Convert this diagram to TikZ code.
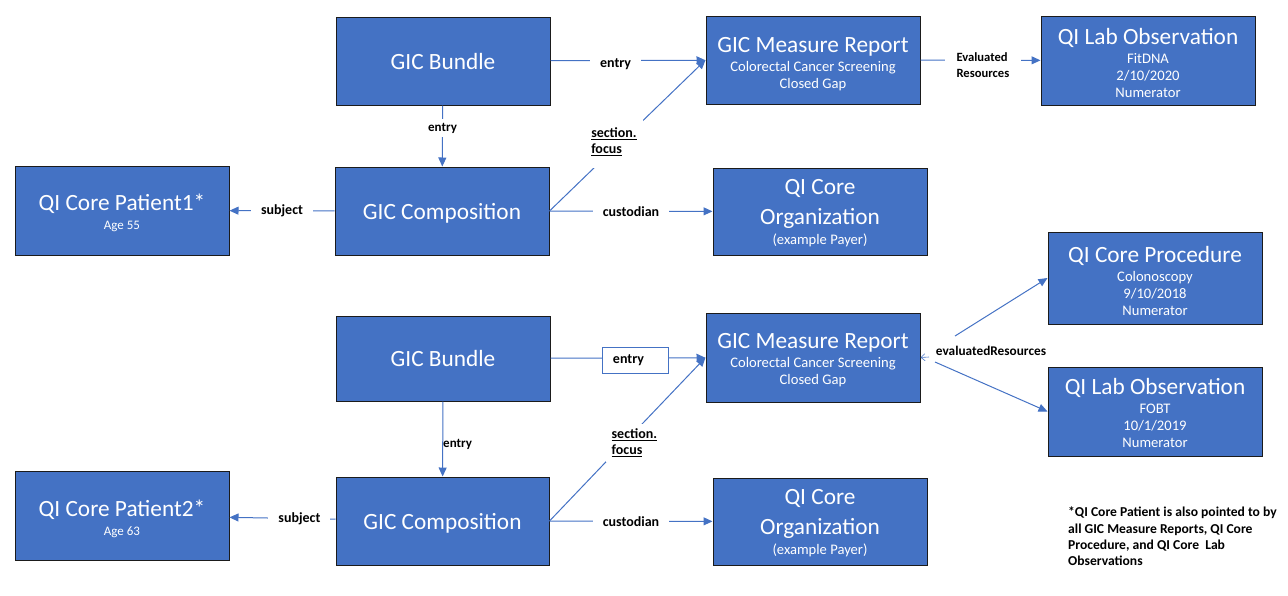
\documentclass[tikz,border=0pt]{standalone}
\usepackage{fontspec}
\setmainfont{Carlito}
\usetikzlibrary{arrows.meta}
\definecolor{boxblue}{HTML}{4472C4}
\definecolor{bordercol}{HTML}{1B1B1B}
\newcommand{\ttl}[2][0pt]{{\fontsize{23.3}{26}\selectfont\rule{0pt}{#1}#2}}
\newcommand{\sml}[1]{{\fontsize{13}{15}\selectfont #1}}
\tikzset{
  box/.style={draw=bordercol, line width=1pt, fill=boxblue, text=white,
    minimum width=214pt, minimum height=88pt, align=center, inner sep=0pt,
    font=\fontsize{14.6}{17}\selectfont},
  conn/.style={draw=boxblue, line width=1pt, -{Triangle[length=9pt,width=8pt]}},
  lbl/.style={fill=white, text=black, font=\bfseries\fontsize{14}{16}\selectfont,
    inner xsep=10pt, inner ysep=4pt, align=left},
  lblsmall/.style={font=\bfseries\fontsize{13}{15}\selectfont},
  lblbox/.style={lbl, draw=boxblue, line width=0.8pt, text width=44pt, inner xsep=11pt, minimum height=26pt},
  notefont/.style={font=\bfseries\fontsize{13.6}{16.3}\selectfont, align=left, text=black}
}
\begin{document}
\begin{tikzpicture}[x=1pt,y=-1pt]
\useasboundingbox (0,0) rectangle (1288,595);

% top group
\node[box] (b1) at (443,61) {\ttl{GIC Bundle}};
\node[box] (mr1) at (813,60) {\ttl[24pt]{GIC Measure Report}\\[2pt]Colorectal Cancer Screening\\Closed Gap};
\node[box, minimum height=89pt] (lo1) at (1148,60.5) {\ttl[22pt]{QI Lab Observation}\\[2pt]FitDNA\\2/10/2020\\Numerator};
\node[box, minimum height=89pt] (p1) at (122,210.5) {\ttl[21pt]{QI Core Patient1*}\\[2pt]\sml{Age 55}};
\node[box] (c1) at (442,211) {\ttl[20.5pt]{GIC Composition}};
\node[box, minimum height=87pt] (o1) at (820,211.5) {\ttl[19pt]{QI Core}\\[9.5pt]\ttl{Organization}\\[3pt](example Payer)};

% bottom group
\node[box, minimum height=92pt] (pr) at (1155,278) {\ttl[22pt]{QI Core Procedure}\\[2pt]Colonoscopy\\9/10/2018\\Numerator};
\node[box, minimum height=85pt] (b2) at (443,358.5) {\ttl{GIC Bundle}};
\node[box, minimum height=89pt] (mr2) at (813,357.5) {\ttl[21pt]{GIC Measure Report}\\[2pt]Colorectal Cancer Screening\\Closed Gap};
\node[box, minimum height=89pt] (lo2) at (1155,411.5) {\ttl[19pt]{QI Lab Observation}\\[2pt]FOBT\\10/1/2019\\Numerator};
\node[box, minimum height=89pt] (p2) at (122,515.5) {\ttl[23pt]{QI Core Patient2*}\\[2pt]\sml{Age 63}};
\node[box, minimum width=213pt] (c2) at (442.5,521) {\ttl[20.5pt]{GIC Composition}};
\node[box, minimum height=87pt] (o2) at (820,521.5) {\ttl[19pt]{QI Core}\\[9.5pt]\ttl{Organization}\\[3pt](example Payer)};

% top connectors
\draw[conn] (b1) -- node[lbl, pos=0.42, yshift=-4pt]{entry} (mr1);
\draw[conn] (b1) -- node[lbl, lblsmall, pos=0.37]{entry} (c1);
\draw[conn] (c1.east) -- node[lbl, pos=0.46, xshift=-7pt, text width=46pt, minimum height=52pt, inner xsep=6pt]{\underline{section.}\\\underline{focus}} (mr1.west);
\draw[conn] (c1) -- node[lbl, pos=0.5]{subject} (p1);
\draw[conn] (c1) -- node[lbl, pos=0.5]{custodian} (o1);
\draw[conn] (mr1) -- node[lbl, pos=0.52, yshift=-5pt, font=\bfseries\fontsize{12.6}{16}\selectfont, inner xsep=12pt]{Evaluated\\Resources} (lo1);

% bottom connectors
\draw[conn] (b2) -- node[lblbox, pos=0.545, yshift=-2pt]{entry} (mr2);
\draw[conn] (b2) -- node[pos=0.57, anchor=west, inner xsep=0pt, text=black, lblsmall]{entry} (c2);
\draw[conn] (c2.east) -- node[lbl, pos=0.48, xshift=10pt, inner xsep=6pt, inner ysep=5pt]{\underline{section.}\\\underline{focus}} (mr2.west);
\draw[conn] (c2) -- node[lbl, pos=0.34]{subject} (p2);
\draw[conn] (c2) -- node[lbl, pos=0.5]{custodian} (o2);

\node[text=black, font=\bfseries\fontsize{13.3}{16}\selectfont, inner sep=0pt] (er) at (991,351) {evaluatedResources};
\coordinate (e1) at (955,336);
\coordinate (e2) at (935,362);
\coordinate (e3) at (929,357);
\draw[conn] (e1) -- (pr.west);
\draw[conn] (e2) -- (lo2.west);
\draw[draw=boxblue, line width=0.6pt, -{Straight Barb[length=4pt,width=7pt]}] (e3) -- (mr2.east);

\node[notefont, anchor=north west, inner sep=0pt] (note) at (1068,507) {*QI Core Patient is also pointed to by\\all GIC Measure Reports, QI Core\\Procedure, and QI Core~~Lab\\Observations};
\end{tikzpicture}
\end{document}
